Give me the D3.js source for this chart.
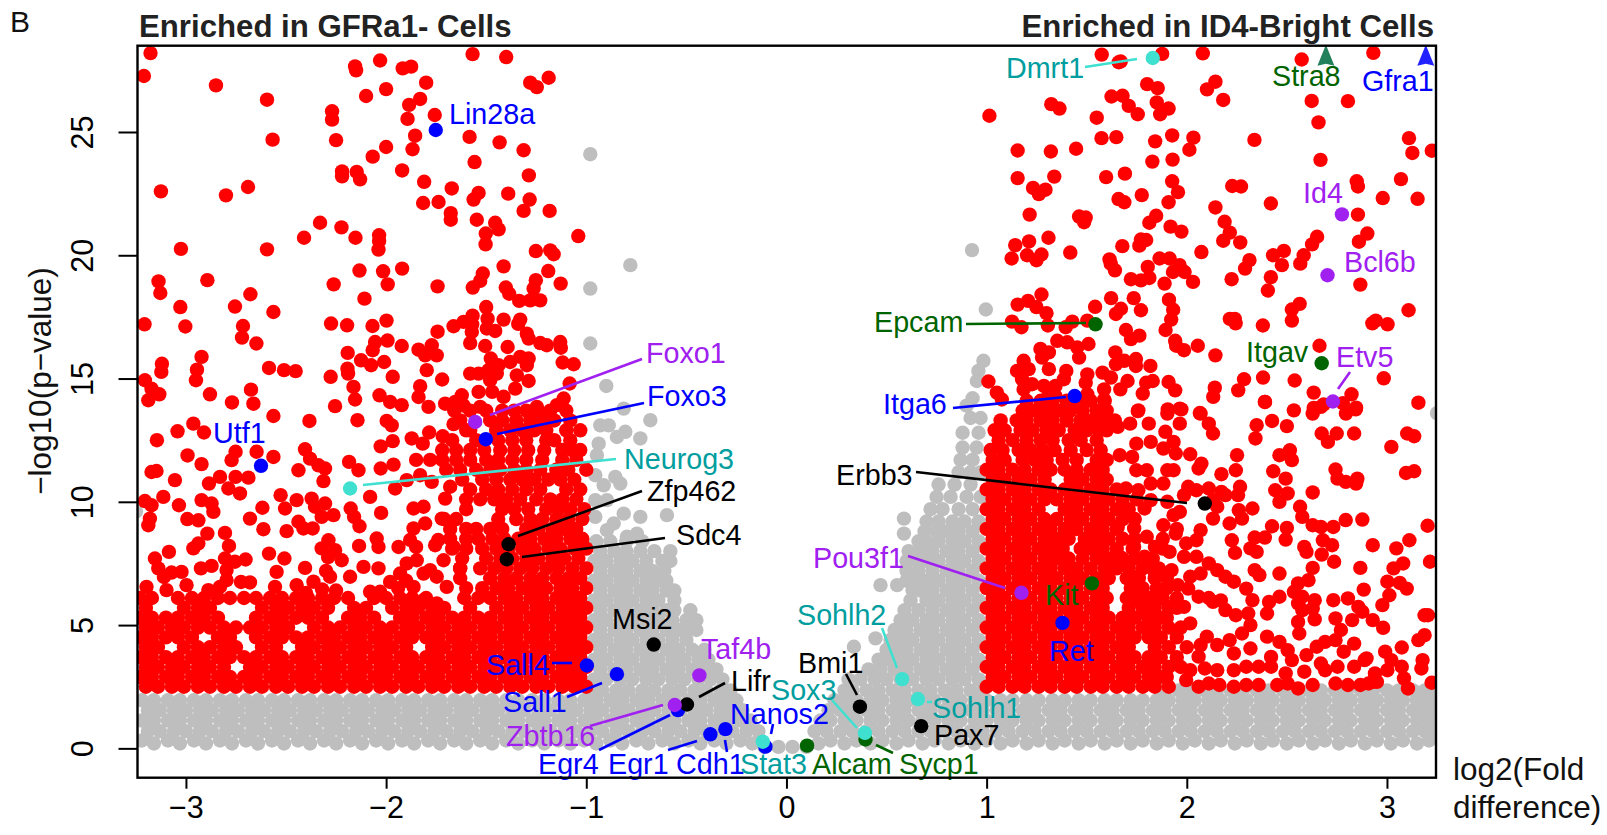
<!DOCTYPE html>
<html lang="en">
<head>
<meta charset="utf-8">
<title>Volcano plot GFRa1- vs ID4-Bright</title>
<script src="https://d3js.org/d3.v7.min.js"></script>
<style>
body { margin: 0; background: #fff; }
text { font-family: "Liberation Sans", Arial, sans-serif; }
.axis text { font-size: 30.5px; fill: #000; }
.axis line { stroke: #000; stroke-width: 2px; }
.gene-label { font-size: 28.7px; }
.title { font-size: 31.2px; font-weight: bold; fill: #222; }
.axis-title { font-size: 31.5px; fill: #111; }
</style>
</head>
<body>
<script>
// tick labels
var xTicks = [-3, -2, -1, 0, 1, 2, 3];
var yTicks = [0, 5, 10, 15, 20, 25];

// not significant genes: the solid band, each row is [-log10 p, [log2 fold ...]]
var greyRows = [
[0.32,[-3.22,-3.09,-2.96,-2.83,-2.7,-2.57,-2.44,-2.31,-2.18,-2.05,-1.92,-1.79,-1.66,-1.53,-1.4,-1.27,-1.14,-1.01,-.88,-.75,-.62,-.49,-.36,-.23,.22,.35,.48,.61,.74,.87,1,1.13,1.26,1.39,1.52,1.65,1.78,1.91,2.04,2.17,2.3,2.43,2.56,2.69,2.82,2.95,3.08,3.21]],
[0.2,[-3.16,-3.03,-2.9,-2.77,-2.64,-2.51,-2.38,-2.25,-2.12,-1.99,-1.86,-1.73,-1.6,-1.47,-1.34,-1.21,-1.08,-.95,-.82,-.69,-.56,-.43,-.3,-.17,.16,.29,.42,.55,.68,.81,.94,1.07,1.2,1.33,1.46,1.59,1.72,1.85,1.98,2.11,2.24,2.37,2.5,2.63,2.76,2.89,3.02,3.15]],
[0.06,[-.11,-.04,.03,.1]],
[0.7,[-3.19,-3.13,-3.06,-3,-2.93,-2.87,-2.8,-2.74,-2.67,-2.61,-2.54,-2.48,-2.41,-2.35,-2.28,-2.22,-2.15,-2.09,-2.02,-1.96,-1.89,-1.83,-1.76,-1.7,-1.63,-1.57,-1.5,-1.44,-1.37,-1.31,-1.24,-1.18,-1.11,-1.05,-.98,-.92,-.85,-.79,-.72,-.66,-.59,-.53,-.46,-.4,-.33,-.27,-.2,-.14,.14,.2,.27,.33,.4,.46,.53,.59,.66,.72,.79,.85,.92,.98,1.05,1.11,1.18,1.24,1.31,1.37,1.44,1.5,1.57,1.63,1.7,1.76,1.83,1.89,1.96,2.02,2.09,2.15,2.22,2.28,2.35,2.41,2.48,2.54,2.61,2.67,2.74,2.8,2.87,2.93,3,3.06,3.13,3.19,3.23]],
[1.13,[-3.22,-3.16,-3.09,-3.03,-2.96,-2.9,-2.83,-2.77,-2.7,-2.64,-2.57,-2.51,-2.44,-2.38,-2.31,-2.25,-2.18,-2.12,-2.05,-1.99,-1.92,-1.86,-1.79,-1.73,-1.66,-1.6,-1.53,-1.47,-1.4,-1.34,-1.27,-1.21,-1.14,-1.08,-1.01,-.95,-.88,-.82,-.75,-.69,-.62,-.56,-.49,-.43,-.36,-.3,-.23,-.18,.17,.22,.29,.35,.42,.48,.55,.61,.68,.74,.81,.87,.94,1,1.07,1.13,1.2,1.26,1.33,1.39,1.46,1.52,1.59,1.65,1.72,1.78,1.85,1.91,1.98,2.04,2.11,2.17,2.24,2.3,2.37,2.43,2.5,2.56,2.63,2.69,2.76,2.82,2.89,2.95,3.02,3.08,3.15,3.21]],
[1.55,[-3.19,-3.13,-3.06,-3,-2.93,-2.87,-2.8,-2.74,-2.67,-2.61,-2.54,-2.48,-2.41,-2.35,-2.28,-2.22,-2.15,-2.09,-2.02,-1.96,-1.89,-1.83,-1.76,-1.7,-1.63,-1.57,-1.5,-1.44,-1.37,-1.31,-1.24,-1.18,-1.11,-1.05,-.98,-.92,-.85,-.79,-.72,-.66,-.59,-.53,-.46,-.4,-.33,-.27,-.22,.21,.27,.33,.4,.46,.53,.59,.66,.72,.79,.85,.92,.98,1.05,1.11,1.18,1.24,1.31,1.37,1.44,1.5,1.57,1.63,1.7,1.76,1.83,1.89,1.96,2.02,2.09,2.15,2.22,2.28,2.35,2.41,2.48,2.54,2.61,2.67,2.74,2.8,2.87,2.93,3,3.06,3.13,3.19,3.23]],
[1.95,[-3.22,-3.16,-3.09,-3.03,-2.96,-2.9,-2.83,-2.77,-2.7,-2.64,-2.57,-2.51,-2.44,-2.38,-2.31,-2.25,-2.18,-2.12,-2.05,-1.99,-1.92,-1.86,-1.79,-1.73,-1.66,-1.6,-1.53,-1.47,-1.4,-1.34,-1.27,-1.21,-1.14,-1.08,-1.01,-.95,-.88,-.82,-.75,-.69,-.62,-.56,-.49,-.43,-.36,-.3,-.25,.24,.29,.35,.42,.48,.55,.61,.68,.74,.81,.87,.94,1,1.07,1.13,1.2,1.26,1.33,1.39,1.46,1.52,1.59,1.65,1.72,1.78,1.85,1.91,1.98,2.04,2.11,2.17,2.24,2.3,2.37,2.43,2.5,2.56,2.63,2.69,2.76,2.82,2.89,2.95,3.02,3.08,3.15,3.21]],
[2.35,[-.98,-.92,-.85,-.79,-.72,-.66,-.59,-.53,-.46,-.4,-.33,-.28,.29,.33,.4,.46,.53,.59,.66,.72,.79,.85,.92,.98,1.89,1.96,2.02,2.09,2.15,2.22,2.28,2.35,2.41,2.48,2.54,2.61,2.67,2.74,2.8,2.87,2.93,3,3.06,3.13,3.19,3.23]],
// left wedge
[2.8,[-.96,-.9,-.83,-.77,-.7,-.64,-.57,-.51,-.44,-.38,-.32]],
[3.2,[-.93,-.86,-.8,-.73,-.67,-.6,-.54,-.47,-.41,-.35]],
[3.6,[-.96,-.9,-.83,-.77,-.7,-.64,-.57,-.51,-.44,-.39]],
[4,[-.93,-.86,-.8,-.73,-.67,-.6,-.54,-.47,-.41]],
[4.4,[-.96,-.9,-.83,-.77,-.7,-.64,-.57,-.5]],
[4.8,[-.93,-.86,-.8,-.73,-.67,-.6,-.54,-.49,-.45]],
[5.2,[-.96,-.9,-.83,-.77,-.7,-.64,-.57,-.5,-.45]],
[5.6,[-.93,-.86,-.8,-.73,-.67,-.6,-.56,-.48]],
[6,[-.96,-.9,-.83,-.77,-.7,-.64,-.56]],
[6.4,[-.93,-.86,-.8,-.73,-.67,-.6,-.56]],
[6.8,[-.96,-.9,-.83,-.77,-.7,-.64,-.6]],
[7.2,[-.93,-.86,-.8,-.73,-.67,-.61]],
[7.6,[-.96,-.9,-.83,-.77,-.7,-.62,-.58]],
[8,[-.93,-.86,-.8,-.73,-.66,-.58]],
[8.4,[-.95,-.88,-.8,-.72]],
// right wedge
[2.8,[.31,.37,.44,.5,.57,.63,.7,.76,.83,.89,.96]],
[3.2,[.41,.47,.54,.6,.67,.73,.8,.86,.93]],
[3.6,[.46,.5,.57,.63,.7,.76,.83,.89,.96]],
[4,[.5,.54,.6,.67,.73,.8,.86,.93]],
[4.4,[.52,.57,.63,.7,.76,.83,.89,.96]],
[4.8,[.54,.6,.67,.73,.8,.86,.93]],
[5.2,[.57,.63,.7,.76,.83,.89,.96]],
[5.6,[.59,.66,.73,.8,.86,.93]],
[6,[.62,.7,.76,.83,.89,.96]],
[6.4,[.63,.67,.73,.8,.86,.93]],
[6.8,[.6,.65,.7,.76,.83,.89,.96]],
[7.2,[.6,.66,.73,.8,.86,.93]],
[7.6,[.6,.65,.7,.76,.83,.89,.96]],
[8,[.61,.67,.73,.8,.86,.93]],
[8.4,[.66,.7,.76,.83,.89,.96]],
[8.8,[.69,.75,.8,.86,.93]],
[9.2,[.7,.76,.83,.89,.96]],
[9.7,[.72,.78,.86,.93]],
[10.2,[.75,.82,.9,.97]],
[10.7,[.76,.84,.92]],
[11.2,[.86,.92,.97]],
[11.7,[.87,.93]],
[12.2,[.88,.95]],
[12.8,[.88,.96]],
[13.4,[.92,.97]]
];

// not significant genes read one by one
var greyPoints = [
[-.98,24.1],[-.98,18.65],[-.98,16.42],[-.9,14.7],[-.78,19.6],[-.68,13.31],[-.813,13.78],[-.93,13.1],[-.888,13.1],[-.847,12.63],[-.805,12.84],[-.73,12.57],[-.938,12.36],[-.947,11.89],[-.955,11.08],[-.855,11.01],[-.913,10.67],[-.83,10.74],[-.955,10.07],[-.897,10.07],[-.955,9.39],[-.813,9.52],[-.73,9.39],[-.597,9.46],[-.863,9.12],[-.897,8.85],[-.747,8.71],[-.797,8.58],
[.47,6.62],[.553,6.62],[.337,4.12],[.445,4.46],[.587,9.32],[.587,8.71],[.927,20.21],[.996,17.8],[.984,15.72],[.959,15.31],[.951,14.9],[.93,14.2],[.9,13.9],[3.25,13.6],[-3.25,9.6]
];

// significant genes: the dense masses as rows
var redRows = [
[2.5,[-3.2,-3.14,-3.07,-3.01,-2.94,-2.88,-2.81,-2.75,-2.68,-2.62,-2.55,-2.49,-2.42,-2.36,-2.29,-2.23,-2.16,-2.1,-2.03,-1.97,-1.9,-1.84,-1.77,-1.71,-1.64,-1.58,-1.51,-1.45,-1.38,-1.32,-1.25,-1.19,-1.12,-1.06,-1]],
[2.9,[-3.23,-3.17,-3.1,-3.04,-2.97,-2.91,-2.84,-2.78,-2.71,-2.65,-2.58,-2.52,-2.45,-2.39,-2.32,-2.26,-2.19,-2.13,-2.06,-2,-1.93,-1.87,-1.8,-1.74,-1.67,-1.61,-1.54,-1.48,-1.41,-1.35,-1.28,-1.22,-1.15,-1.09,-1.03]],
[3.3,[-3.2,-3.14,-3.07,-3.01,-2.94,-2.88,-2.81,-2.68,-2.62,-2.55,-2.49,-2.42,-2.36,-2.29,-2.23,-2.16,-2.1,-2.03,-1.97,-1.9,-1.84,-1.77,-1.71,-1.64,-1.58,-1.51,-1.45,-1.38,-1.32,-1.25,-1.19,-1.12,-1.06,-1]],
[3.7,[-3.23,-3.17,-3.1,-3.04,-2.97,-2.91,-2.84,-2.78,-2.71,-2.65,-2.58,-2.52,-2.45,-2.39,-2.32,-2.26,-2.19,-2.13,-2.06,-2,-1.93,-1.87,-1.8,-1.74,-1.67,-1.61,-1.54,-1.48,-1.41,-1.35,-1.28,-1.22,-1.15,-1.09,-1.03]],
[4.1,[-3.2,-3.14,-3.01,-2.94,-2.88,-2.81,-2.75,-2.62,-2.55,-2.42,-2.36,-2.29,-2.23,-2.16,-2.1,-2.03,-1.97,-1.9,-1.77,-1.71,-1.64,-1.58,-1.51,-1.45,-1.38,-1.32,-1.25,-1.19,-1.12,-1.06,-1]],
[4.5,[-3.23,-3.17,-3.1,-3.04,-2.97,-2.84,-2.78,-2.65,-2.58,-2.52,-2.45,-2.39,-2.32,-2.26,-2.19,-2.13,-2.06,-2,-1.93,-1.87,-1.8,-1.74,-1.67,-1.61,-1.54,-1.48,-1.41,-1.35,-1.28,-1.22,-1.15,-1.09,-1.03]],
[4.9,[-3.2,-3.14,-3.07,-3.01,-2.94,-2.88,-2.81,-2.75,-2.68,-2.62,-2.55,-2.49,-2.36,-2.29,-2.23,-2.16,-2.1,-2.03,-1.97,-1.9,-1.84,-1.77,-1.71,-1.64,-1.58,-1.51,-1.45,-1.38,-1.32,-1.25,-1.19,-1.12,-1.06,-1]],
[5.3,[-3.23,-3.17,-3.1,-3.04,-2.97,-2.91,-2.84,-2.65,-2.58,-2.52,-2.45,-2.39,-2.32,-2.19,-2.13,-2.06,-1.93,-1.87,-1.8,-1.74,-1.67,-1.61,-1.54,-1.48,-1.41,-1.35,-1.28,-1.22,-1.15,-1.09,-1.03]],
[5.7,[-3.2,-3.01,-2.94,-2.88,-2.62,-2.55,-2.49,-2.42,-2.36,-2.29,-2.16,-2.1,-1.97,-1.9,-1.84,-1.77,-1.71,-1.58,-1.45,-1.38,-1.32,-1.25,-1.19,-1.12,-1.06,-1]],
[6.1,[-3.23,-3.17,-3.04,-2.97,-2.91,-2.84,-2.78,-2.71,-2.65,-2.58,-2.52,-2.45,-2.39,-2.32,-2.26,-2.19,-2.06,-2,-1.93,-1.87,-1.8,-1.61,-1.54,-1.48,-1.41,-1.35,-1.28,-1.22,-1.15,-1.09,-1.03]],
[6.5,[-1.6,-1.52,-1.45,-1.39,-1.32,-1.26,-1.2,-1.13,-1.07,-1]],
[6.9,[-1.63,-1.48,-1.41,-1.35,-1.28,-1.22,-1.15,-1.09,-1.03]],
[7.3,[-1.63,-1.53,-1.46,-1.4,-1.33,-1.27,-1.2,-1.14,-1.07,-1]],
[7.7,[-1.62,-1.5,-1.43,-1.37,-1.3,-1.24,-1.17,-1.11,-1.04]],
[8.1,[-1.67,-1.6,-1.52,-1.45,-1.39,-1.32,-1.26,-1.19,-1.13,-1.06,-1]],
[8.5,[-1.68,-1.6,-1.54,-1.47,-1.41,-1.34,-1.28,-1.21,-1.15,-1.08,-1.02]],
[8.9,[-1.68,-1.6,-1.55,-1.48,-1.42,-1.3,-1.24,-1.17,-1.11,-1.05]],
[9.3,[-1.71,-1.65,-1.44,-1.35,-1.28,-1.22,-1.15,-1.09,-1.02]],
[9.7,[-1.6,-1.42,-1.36,-1.29,-1.2,-1.14,-1.08,-1.01]],
[10.1,[-1.6,-1.53,-1.46,-1.4,-1.33,-1.25,-1.18,-1.12,-1.05]],
[10.5,[-1.58,-1.5,-1.44,-1.37,-1.3,-1.23,-1.1,-1.03]],
[10.9,[-1.62,-1.52,-1.45,-1.38,-1.32,-1.26,-1.19,-1.13,-1.06]],
[11.3,[-1.7,-1.63,-1.55,-1.48,-1.43,-1.36,-1.3,-1.23,-1.15,-1.09,-1]],
[11.7,[-1.85,-1.78,-1.72,-1.65,-1.58,-1.5,-1.44,-1.37,-1.3,-1.22,-1.12,-1.05]],
[12.1,[-1.72,-1.65,-1.58,-1.51,-1.43,-1.36,-1.29,-1.21,-1.12,-1.07,-1.03]],
[12.5,[-1.67,-1.55,-1.44,-1.37,-1.3,-1.2,-1.16,-1.08]],
[12.9,[-1.6,-1.45,-1.38,-1.32,-1.26,-1.2,-1.1,-1.03]],
[13.3,[-1.63,-1.48,-1.42,-1.35,-1.28,-1.22,-1.16,-1.08]],
[13.7,[-1.66,-1.58,-1.5,-1.42,-1.36,-1.3,-1.24,-1.18,-1.1]],
// right block
[2.5,[1,1.06,1.13,1.19,1.26,1.32,1.39,1.45,1.52,1.58,1.65,1.71,1.78,1.84,1.91]],
[2.9,[1.03,1.09,1.16,1.22,1.29,1.35,1.42,1.48,1.55,1.61,1.68,1.74,1.81,1.87,1.9]],
[3.3,[1,1.06,1.13,1.19,1.26,1.32,1.39,1.45,1.52,1.58,1.65,1.71,1.78,1.84,1.91,1.97]],
[3.7,[1.03,1.09,1.16,1.22,1.29,1.35,1.42,1.48,1.55,1.61,1.68,1.74,1.81,1.87,1.95]],
[4.1,[1,1.06,1.13,1.19,1.26,1.32,1.39,1.45,1.52,1.58,1.65,1.71,1.84,1.91,2]],
[4.5,[1.03,1.09,1.16,1.22,1.29,1.35,1.42,1.48,1.55,1.61,1.68,1.74,1.81,1.87,1.95]],
[4.9,[1,1.06,1.13,1.19,1.26,1.32,1.39,1.45,1.52,1.58,1.65,1.71,1.78,1.84,1.91,1.97]],
[5.3,[1.03,1.09,1.16,1.22,1.29,1.35,1.42,1.48,1.55,1.61,1.68,1.74,1.81,1.87,1.9]],
[5.7,[1,1.06,1.13,1.19,1.26,1.32,1.39,1.45,1.52,1.58,1.71,1.78,1.84,1.91,1.95]],
[6.1,[1.03,1.09,1.16,1.22,1.29,1.35,1.42,1.48,1.55,1.6,1.7,1.76,1.82,1.88,1.95]],
[6.5,[1,1.06,1.13,1.19,1.26,1.32,1.39,1.45,1.52,1.58,1.72,1.78,1.85,1.9]],
[6.9,[1.03,1.09,1.16,1.22,1.29,1.35,1.42,1.48,1.55,1.61,1.7,1.76,1.84,1.9]],
[7.3,[1,1.06,1.13,1.19,1.26,1.32,1.39,1.45,1.52,1.59,1.65,1.71,1.78,1.86]],
[7.7,[1.03,1.09,1.16,1.22,1.29,1.35,1.41,1.48,1.55,1.61,1.68,1.74,1.83]],
[8.1,[1,1.06,1.13,1.19,1.26,1.32,1.38,1.47,1.52,1.58,1.65,1.73,1.88]],
[8.5,[1.03,1.09,1.16,1.22,1.29,1.35,1.41,1.49,1.55,1.61,1.68,1.74,1.88]],
[8.9,[1,1.06,1.13,1.19,1.26,1.32,1.39,1.45,1.52,1.58,1.65,1.95]],
[9.3,[1.03,1.09,1.16,1.22,1.29,1.35,1.42,1.48,1.55,1.61,1.68,1.74]],
[9.7,[1,1.06,1.13,1.19,1.26,1.39,1.45,1.52,1.58,1.65,1.71]],
[10.1,[1.03,1.09,1.16,1.22,1.29,1.35,1.42,1.48,1.55,1.61,1.68,1.75]],
[10.5,[1,1.06,1.13,1.19,1.26,1.32,1.39,1.45,1.52,1.58,1.65]],
[10.9,[1.03,1.09,1.16,1.22,1.29,1.42,1.48,1.55,1.6]],
[11.3,[1,1.06,1.13,1.19,1.26,1.32,1.39,1.45,1.52,1.58]],
[11.7,[1.03,1.09,1.18,1.24,1.3,1.38,1.45,1.55,1.6]],
[12.1,[1.02,1.08,1.16,1.22,1.28,1.34,1.42,1.5,1.57]],
[12.5,[1.06,1.13,1.2,1.27,1.33,1.41,1.47,1.55]],
[12.9,[1.04,1.09,1.17,1.23,1.3,1.36,1.44,1.5,1.56,1.6]],
[13.3,[1.07,1.15,1.2,1.27,1.33,1.4,1.47,1.52,1.58,1.64]],
[13.7,[1.18,1.24,1.3,1.36,1.42,1.48,1.55,1.6]],
[14.1,[1.2,1.27,1.33,1.4,1.46,1.52,1.59]]
];

// significant genes read one by one, left side
var redLeft = [
[-3.177,28.2],[-3.21,27.27],[-2.85,26.89],[-2.595,26.31],[-2.567,24.69],[-2.155,27.66],[-2.15,27.5],[-2.03,27.9],[-1.917,27.58],[-1.875,27.65],[-1.8,27],[-2,26.74],[-2.1,26.46],[-1.83,26.34],[-1.885,26.1],[-1.757,25.69],[-1.893,25.53],[-2.27,25.84],[-2.27,25.5],[-2.25,24.67],[-1.855,24.85],[-1.868,24.3],[-2,24.39],[-2.067,24],[-1.568,28.16],[-1.4,28.04],[-1.28,27],[-1.247,26.82],[-1.188,27.2],[-1.583,24.8],[-1.433,24.58],[-1.313,24.26],[-1.558,23.78],[-1.92,23.44],[-2.22,23.4],[-2.22,23.2],[-2.147,23.38],[-2.13,23.08],[-1.81,22.98],[-1.287,23.24],[-1.672,22.71],[-1.538,22.53],[-1.563,22.26],[-1.39,22.5],[-1.283,22.26],[-1.313,21.8],[-1.815,22.12],[-1.738,22.16],[-1.677,21.71],[-1.677,21.44],[-1.547,21.44],[-1.183,21.8],[-1.455,21.32],[-1.438,21.05],[-1.502,20.88],[-1.503,20.44],[-1.04,20.78],
[-3.125,22.59],[-2.8,22.43],[-2.69,22.77],[-2.33,21.32],[-2.223,21.13],[-2.41,20.71],[-2.153,20.71],[-2.035,20.81],[-2.035,20.58],[-2.038,20.23],[-3.025,20.26],[-2.595,20.24],[-1.252,20.17],[-1.18,20.2],[-1.163,20.04],[-1.413,19.55],[-1.19,19.36],[-2.133,19.38],[-2.015,19.35],[-1.92,19.46],[-1.517,19.26],[-1.53,18.96],[-1.567,18.69],[-3.137,18.94],[-3.128,18.47],[-2.893,18.99],[-2.262,18.82],[-1.992,18.82],[-1.743,18.74],[-1.402,18.69],[-1.385,18.44],[-1.252,18.99],[-1.263,18.65],[-1.128,18.85],[-2.108,18.24],[-2.678,18.42],[-3.028,17.9],[-2.755,17.92],[-1.335,18.15],[-1.28,18.17],[-1.23,18.17],[-1.5,17.9],[-2.563,17.7],[-1.568,17.55],[-1.613,17.3],[-1.663,17.12],[-1.57,17.2],[-1.493,17.43],[-1.413,17.39],[-1.33,17.39],[-1.34,17.22],[-3.207,17.2],[-3.003,17.11],[-2.715,17.13],[-2.72,16.66],[-2.648,16.42],[-2.275,17.23],[-2.195,17.16],[-2.068,17.13],[-1.998,17.35],[-1.743,16.9],[-1.572,16.89],[-1.497,17.03],[-1.455,16.93],[-1.297,16.82],[-1.288,16.62],[-2.055,16.48],[-2.067,16.15],[-1.993,16.54],[-1.922,16.32],[-2.192,16.04],[-1.838,16.17],[-1.772,16.35],[-1.805,15.94],[-1.747,15.94],[-1.78,16.08],[-1.58,16.44],[-1.505,16.32],[-1.393,16.28],[-1.23,16.44],[-1.197,16.35],[-1.13,16.48],[-1.127,16.25],
[-2.922,15.88],[-3.12,15.6],[-3.123,15.27],[-2.945,15.36],[-2.95,14.93],[-2.585,15.43],[-2.51,15.34],[-2.452,15.3],[-2.125,15.74],[-2.075,15.54],[-2.01,15.67],[-2.193,15.4],[-2.19,15.2],[-2.277,15.07],[-1.967,15.07],[-1.797,15.34],[-1.72,14.96],[-1.477,15.81],[-1.33,15.88],[-1.288,15.81],[-1.297,15.54],[-1.38,15.67],[-1.438,15.54],[-1.118,15.65],[-1.063,15.58],[-1.58,15.2],[-1.538,15.2],[-1.488,15.34],[-1.48,14.93],[-1.447,15.2],[-1.347,15.13],[-1.288,14.9],[-1.355,14.59],[-1.538,14.46],[-1.47,14.46],[-1.413,14.26],[-1.083,14.8],[-3.205,14.93],[-3.172,14.59],[-3.133,14.36],[-3.188,14.12],[-2.88,14.36],[-2.77,14.03],[-2.675,14.55],[-2.663,13.98],[-2.163,14.66],[-2.155,14.15],[-2.255,13.88],[-2.033,14.32],[-1.98,14.05],[-1.922,13.92],[-1.83,14.69],[-1.838,14.25],[-1.788,13.85],[-1.705,13.98],[-1.622,14.32],[-1.655,14.05],[-1.53,13.85],[-1.113,14.19],[-1.247,13.85],[-1.147,13.92],[-1.613,13.9],
[-2.563,13.48],[-2.383,13.28],[-2.143,13.31],[-2.963,13.17],[-2.91,12.81],[-3.042,12.86],[-3.145,12.5],[-1.997,13.28],[-1.972,13.1],[-2.752,12.03],[-2.772,11.69],[-2.647,12.03],[-2.563,11.82],[-2.992,11.88],[-2.922,11.53],[-3.172,11.21],[-3.147,11.25],[-2.405,12.13],[-2.38,11.75],[-2.338,11.48],[-2.305,11.35],[-2.438,11.28],[-2.313,10.84],[-2.185,11.62],[-2.138,11.28],[-2.027,11.35],[-1.963,11.51],[-2.027,12.25],[-1.967,12.46],[-1.872,12.57],[-1.817,12.36],[-1.785,12.81],[-1.717,12.66],[-1.663,13.15],[-1.58,12.9],
[-2.83,11.01],[-2.885,10.74],[-3.055,10.88],[-2.752,11.01],[-2.688,10.98],[-2.788,10.54],[-2.73,10.34],[-3.113,10.2],[-3.205,10.03],[-3.172,9.86],[-3.035,9.86],[-2.922,10.07],[-2.872,9.93],[-2.863,9.59],[-3.18,9.32],[-3.188,9.05],[-2.993,9.3],[-2.938,9.25],[-2.618,9.76],[-2.68,9.32],[-2.613,8.89],[-2.527,10.27],[-2.447,10.07],[-2.505,9.73],[-2.372,10.13],[-2.355,9.8],[-2.305,9.93],[-2.322,9.39],[-2.263,9.46],[-2.08,10.2],[-2.177,9.73],[-2.16,9.39],[-2.133,9.01],[-2.025,9.55],[-2.438,9.19],[-2.497,8.81],[-2.413,8.92],[-2.367,8.92],[-2.805,8.74],[-2.893,8.71],[-2.938,8.31],[-2.963,8.11],[-2.785,8.21],[-3.085,7.97],[-2.585,7.9],[-2.508,7.7],[-3.155,7.7],[-3.138,7.3],[-3.072,7.13],[-3.022,7.16],[-3.11,6.95],[-2.925,7.3],[-2.872,7.4],[-2.805,7.7],[-2.797,7.23],[-2.702,7.66],[-2.755,7.57],[-2.547,7.16],[-2.555,6.55],[-2.447,6.62],[-2.725,6.75],[-2.68,6.73],[-2.797,6.82],[-2.288,8.44],[-2.322,8.11],[-2.255,8.04],[-2.29,7.76],[-2.222,7.63],[-2.405,7.32],[-2.363,6.76],[-2.28,6.96],[-2.3,7.2],[-2.135,8.21],[-2.047,8.51],[-2.038,8.17],[-2.18,6.96],[-2.113,7.36],[-2.038,7.3],[-1.938,8.17],[-1.863,8.92],[-1.805,9.12],[-1.88,8.45],[-1.85,8.17],[-1.755,8.24],[-1.74,8.45],[-1.863,9.73],[-1.813,9.8],[-1.68,10.61],[-1.705,10.13],[-1.722,9.32],[-1.897,10.88],[-1.83,11.08],[-1.772,10.81],[-1.955,10.54],
[-1.663,8.17],[-1.63,7.3],[-1.697,6.55],[-3.197,6.55],[-3.097,6.42],[-2.997,6.62],[-2.888,6.42],[-2.83,6.55],[-2.08,6.35],[-2.03,6.35],[-1.93,7.09],[-1.897,7.5],[-1.847,7.63],[-1.813,7.09],[-1.747,6.96],[-1.78,7.23],[-1.863,6.55],[-1.813,6.01],[-1.747,5.88],[-1.713,7.63],[-1.9,6.8],[-1.94,6.5],[-1.98,6.75],[-2.4,6.3],[-2.32,6.45],[-2.25,6.4]
];

// significant genes read one by one, right side
var redRight = [
[1.575,28.14],[1.66,27.83],[1.67,27.86],[1.877,28.17],[2.08,28.19],[2.574,27.94],[2.932,28.21],[1.802,26.94],[1.855,26.78],[2.143,27.04],[2.101,26.73],[2.182,26.3],[2.624,26.26],[2.805,26.25],[2.658,25.39],[1.624,26.44],[1.679,26.47],[1.71,26.06],[1.755,25.72],[1.85,26.2],[1.909,25.95],[1.867,25.72],[1.323,26.13],[1.364,25.95],[1.014,25.66],[1.55,25.58],[1.574,24.75],[1.648,24.79],[1.842,24.62],[1.927,24.86],[2.033,24.77],[2.013,24.28],[2.338,24.68],[3.11,24.75],[3.127,24.15],[3.224,24.24],[1.155,24.25],[1.321,24.21],[1.447,24.32],[1.828,23.8],[1.929,23.88],[2.668,23.87],[1.155,23.13],[1.338,23.19],[1.597,23.17],[1.691,23.31],[1.927,23],[1.956,22.56],[1.909,22.15],[2.227,22.81],[2.271,22.79],[2.849,23],[2.855,22.79],[3.07,23.09],[2.979,22.32],[3.153,22.29],[1.232,22.73],[1.261,22.48],[1.294,22.66],[1.659,22.28],[1.688,22.15],[1.775,22.44],[2.42,22.1],[2.143,21.94],[2.855,21.65],[1.215,21.65],[1.462,21.57],[1.495,21.53],[1.487,21.34],[1.847,21.6],[1.813,21.32],[2.189,21.36],[2.215,20.92],[2.182,20.59],[2.267,20.52],[1.919,21.16],[1.973,20.96],[2.651,20.75],[2.626,20.44],[2.902,20.88],[2.86,20.55],[1.309,20.71],[1.212,20.56],[1.143,20.41],[1.125,19.87],[1.202,20],[1.249,19.8],[1.274,20.03],[1.418,20.11],[1.678,20.37],[1.771,20.64],[1.797,20.62],[1.763,20.39],[2.073,20.13],[2.485,20.18],[2.431,20],[2.475,19.6],[2.584,20],[2.567,19.66],[2.313,19.8],[2.291,19.46],[1.614,19.83],[1.641,19.39],[1.62,19.66],[1.864,19.87],[1.914,19.87],[1.964,19.6],[1.931,19.32],[1.989,19.32],[1.805,19.53],[1.813,19.08],[1.771,18.98],[1.721,19.03],[1.889,18.85],[2.031,18.92],[2.224,19.03],[2.42,19.11],[2.405,18.57],[2.867,18.81],
[1.274,18.41],[1.207,18.15],[1.155,18],[1.249,17.9],[1.299,17.65],[1.622,18.26],[1.735,18.26],[1.771,17.77],[1.671,17.83],[1.646,17.62],[1.542,17.91],[1.911,18.2],[1.932,17.79],[1.922,17.39],[1.894,16.97],[2.564,18.03],[2.525,17.8],[2.525,17.35],[3.108,17.77],[2.215,17.42],[2.24,17.42],[2.244,17.24],[2.38,17.15],[2.944,17.35],[2.927,17.24],[3.003,17.2],[1.127,17.31],[1.174,17.08],[1.306,17.15],[1.395,17.08],[1.428,17.31],[1.503,17.35],[1.696,16.97],[1.721,16.6],[1.763,16.74],[1.942,16.53],[1.947,16.33],[1.986,16.15],[2.055,16.33],[2.143,15.94],[2.663,16.33],[1.353,16.53],[1.403,16.47],[1.453,16.26],[1.509,16.4],[1.462,15.85],[1.269,16.2],[1.311,16.06],[1.277,15.85],[1.311,15.38],[1.185,15.72],[1.152,15.31],[1.21,15.38],[1.177,14.97],[1.227,14.77],[1.185,14.56],[1.009,14.88],[1.051,14.43],[1.076,14.15],[1.643,16.06],[1.688,15.72],[1.646,15.58],[1.746,15.79],[1.746,15.51],[1.818,15.51],[1.398,15.31],[1.386,14.97],[1.286,14.7],[1.344,14.7],[1.311,14.36],[1.344,14.29],[1.503,15.17],[1.579,15.24],[1.495,14.83],[1.621,15.04],[1.704,14.9],[1.668,14.56],[1.503,14.36],[1.587,14.56],[1.587,14.15],[1.83,14.9],[1.797,14.83],[1.909,14.86],[1.942,14.52],[1.78,14.39],[2.14,14.63],[2.132,14.26],[2.286,14.97],[2.257,14.52],[2.381,15.04],[2.539,14.92],[2.984,15.01],[2.634,14.43],[2.823,14.36],[2.391,14.05],[2.684,13.95],[2.634,13.81],[3.157,14.02],[2.844,13.75],[1.755,13.68],[1.905,13.75],[1.973,13.75],[2.065,13.6],[2.78,14],
[2.39,14.05],[2.535,13.71],[2.629,13.58],[2.67,13.85],[2.795,13.58],[2.846,13.82],[2.349,13.11],[2.426,13.28],[2.5,13.07],[2.343,12.57],[2.674,12.77],[2.749,12.77],[2.705,12.43],[2.836,12.77],[3.101,12.77],[3.136,12.66],[3.022,12.23],[2.251,11.89],[2.463,11.89],[2.515,12.09],[2.525,11.69],[2.017,11.93],[2.073,11.55],[2.059,11.35],[2.173,11.12],[2.245,11.28],[2.432,11.24],[2.494,10.94],[2.743,11.31],[2.753,10.94],[2.794,10.81],[2.852,10.94],[2.846,10.74],[3.136,11.24],[3.095,11.17],[2.629,10.38],[2.266,10.61],[2.256,10.27],[2.442,10.47],[2.504,10.34],[2.463,10],[2.566,9.8],[2.577,9.39],[2.629,9.05],[2.67,8.98],[2.732,8.98],[2.794,9.26],[2.877,9.28],[2.26,9.66],[2.328,9.73],[2.276,9.32],[2.214,9.12],[2.426,9.01],[2.5,8.94],[2.494,8.47],[3.203,9.03],[2.225,8.44],[2.241,7.93],[2.339,8.55],[2.39,8.55],[2.318,8.11],[2.349,7.97],[2.587,8.17],[2.598,7.97],[2.68,8.44],[2.726,8.24],[2.674,7.86],[2.736,7.57],[2.929,8.24],[3.047,8.11],[3.112,8.44],[3.215,7.57],[3.081,7.5],[3.033,7.3],[2.867,7.32],[2.629,7.32],[2.608,6.82],[2.556,6.69],[2.535,6.35],[2.339,7.23],[2.363,7.03],[2.463,7.09],[3.002,6.76],[3.064,6.71],[3.099,6.48],[3.012,6.21],[2.977,5.81],[2.884,6.44],[2.463,6.15],[2.411,5.94],[2.401,5.47],[2.577,6.15],[2.639,6.01],[2.556,5.88],[2.629,5.67],[2.577,5.61],[2.732,6.01],[2.805,6.08],[2.857,5.74],[2.877,5.54],[3.188,5.4],[3.205,5.4],[2.743,5.27],[2.826,5.2],[2.639,5.23],[2.556,5.13],[2.562,4.66],[2.929,5.2],[2.981,4.89],[2.77,4.8],[3.188,4.59],[3.157,4.39],[3.178,3.58],[3.172,3.24],[3.074,4.09],[3.223,2.66],[3.105,2.43],[3.085,2.84],[3.074,3.31],[3.022,3.58],[2.991,3.92],[2.94,3.04],[3.002,3.17],[2.908,2.63],[2.95,2.7],
[1.997,2.77],[2.059,2.5],[2.11,2.63],[2.163,2.57],[2.235,2.5],[2.297,2.57],[2.359,2.57],[2.452,2.57],[2.504,2.63],[2.556,2.43],[2.629,2.57],[2.743,2.63],[2.805,2.57],[2.867,2.57],[2.929,2.7],[2.017,3.17],[2.09,3.24],[2.152,3.17],[2.235,3.17],[2.297,3.31],[2.359,3.31],[2.421,3.31],[2.494,3.04],[2.587,3.11],[2.691,3.17],[2.753,3.31],[2.836,3.31],[2.888,3.58],[2.152,4.19],[2.214,4.39],[2.276,4.66],[2.401,4.53],[2.463,4.32],[2.504,3.98],[2.525,3.58],[2.421,3.71],[2.235,3.85],[2.059,3.72],[2.069,4.19],[2.318,4.05],[2.598,3.78],[2.649,4.12],[2.691,4.32],[2.743,4.39],[2.784,3.92],[2.836,4.25],[2.898,3.65],[2.67,3.44],[2.017,5.07],[2.1,4.53],[1.986,5.74],[2.245,5.4],[2.193,5.61],[2.131,5.94],[2.059,6.15],[2.007,6.48],[1.955,6.62],[2.193,6.96],[2.235,6.76],[2.297,6.48],[2.328,6.01],[2.307,5.47],[2.318,5],[2.048,7.77],[2.11,7.5],[2.152,7.23],[2.069,7.09],[2.017,6.96],[2.11,6.1],[2.17,6],[2.131,9.32],[2.069,8.85],[2.048,8.44],[1.945,8.71],[1.997,8.31],[1.914,7.97],[1.986,7.77],[1.924,7.23],[2.007,10.61],[2.048,10.47],[2.11,10.54],[2.173,10.4],[2.193,10.27],[2.131,10.07],[2.152,9.8],[1.986,10.27],[1.965,9.59],[1.883,9.05],
[1.903,13.58],[1.965,13.78],[1.965,13.17],[2.069,13.58],[2.11,13.17],[2.131,12.77],[1.893,12.84],[1.934,12.43],[1.82,12.43],[1.748,12.36],[1.883,12.16],[1.945,11.96],[1.665,11.89],[1.727,11.82],[1.748,11.28],[1.8,11.28],[1.903,11.28],[1.934,11.28],[1.82,10.74],[1.696,10.54],[1.883,10.74],[1.758,10.47],[1.82,10.07],[1.903,10],[1.789,9.73],[1.934,9.46],[1.758,13.71],[1.81,13.17],[1.655,13.04],[1.717,13.17],
[1.655,8.98],[1.737,8.92],[1.8,8.58],[1.841,8.17],[1.737,8.17],[1.789,7.77],[1.665,7.77],[1.82,7.5],[1.758,6.96],[1.841,7.09],[1.883,6.42],[1.748,6.01],[1.789,5.47],[1.841,5.88],[1.924,5.74]
];

// named genes, in drawing order
var geneNames = ["Lin28a","Utf1","Foxo3","Foxo1","Neurog3","Zfp462","Sdc4","Msi2","Sall4","Sall1","Taf4b","Egr4","Lifr","Zbtb16","Egr1","Cdh1","Nanos2","Stat3","Alcam","Sycp1","Sox3","Bmi1","Sohlh2","Sohlh1","Pax7","Pou3f1","Kit","Ret","Erbb3","Epcam","Itga6","Dmrt1","Id4","Bcl6b","Itgav","Etv5"];
var geneX = [-1.752,-2.625,-1.502,-1.555,-2.18,-1.388,-1.397,-.663,-.997,-.847,-.435,-.542,-.497,-.558,-.38,-.305,-.105,-.118,.103,.395,.392,.367,.578,.657,.673,1.174,1.526,1.379,2.09,1.544,1.44,1.83,2.775,2.703,2.674,2.73];
var geneY = [25.08,11.46,12.54,13.24,10.54,8.28,7.67,4.21,3.36,3.01,2.96,1.55,1.78,1.76,.57,.78,.07,.27,.11,.36,.63,1.69,2.81,2,.9,6.31,6.69,5.09,9.93,17.2,14.29,28,21.66,19.19,15.62,14.07];
var geneGroup = ["blue","blue","blue","purple","teal","black","black","black","blue","blue","purple","blue","black","purple","blue","blue","blue","teal","green","green","teal","black","teal","teal","black","purple","green","blue","black","green","blue","teal","purple","purple","green","purple"];

// genes beyond the top of the plot, shown as arrow heads
var offscaleNames = ["Stra8","Gfra1"];
var offscaleX = [2.695,3.194];

var groupDot = {blue:"#0000ff", purple:"#a020f0", teal:"#40e0d0", green:"#006400", black:"#000"};
var groupText = {blue:"#0000ff", purple:"#a020f0", teal:"#009e9e", green:"#006400", black:"#000"};

// where the gene names sit, in page pixels
var labelPos = {Lin28a:[449,124],Utf1:[213,443],Foxo1:[646,363],Foxo3:[647,406],Neurog3:[624,469],Zfp462:[647,501],Sdc4:[676,545],Msi2:[612,629],Sall4:[486,675],Sall1:[503,712],Taf4b:[701,659],Zbtb16:[506,746],Lifr:[731,691],Nanos2:[730,724],Egr4:[538,774],Egr1:[608,774],Cdh1:[676,774],Stat3:[740,774],Alcam:[812,774],Sycp1:[899,774],Sox3:[771,700],Bmi1:[798,673],Sohlh2:[797,625],Sohlh1:[932,718],Pax7:[934,745],Pou3f1:[813,568],Erbb3:[836,485],Itga6:[883,414],Epcam:[874,332],Kit:[1045,605],Ret:[1049,661],Dmrt1:[1006,78],Stra8:[1272,86],Gfra1:[1362,91],Id4:[1303,203],Bcl6b:[1344,272],Itgav:[1246,362],Etv5:[1336,367]};

// leader lines from name to point, in page pixels
var leaders = {Foxo1:[490,415,642,359],Foxo3:[497,434,644,403],Neurog3:[363,485,616,459],Zfp462:[518,536,642,491],Sdc4:[522,557,665,538],Sall4:[552,663,572,663],Sall1:[567,697,602,683],Zbtb16:[590,726,663,705],Egr4:[599,750,670,715],Egr1:[668,750,697,741],Cdh1:[727,752,725,740],Lifr:[699,697,725,683],Nanos2:[771,734,773,724],Sycp1:[876,745,893,753],Sox3:[832,700,857,728],Bmi1:[846,674,857,695],Sohlh2:[882,628,897,668],Sohlh1:[927,702,932,702],Pou3f1:[908,556,1005,588],Erbb3:[916,472,1187,503],Itga6:[953,408,1066,397],Epcam:[966,324,1086,323],Dmrt1:[1085,67,1137,59],Etv5:[1338,389,1350,372]};

var w = 1607, h = 835;
var left = 137.5, right = 1436, top_ = 45.7, bottom = 777.7;
var radius = 7.2;

var svg = d3.select("body").append("svg")
	.attr("width", w)
	.attr("height", h);

var xScale = d3.scaleLinear().domain([-3.242, 3.245]).range([left, right]);
var yScale = d3.scaleLinear().domain([-1.19, 28.5]).range([bottom, top_]);

svg.append("clipPath").attr("id", "plot-clip")
	.append("rect")
	.attr("x", left).attr("y", top_)
	.attr("width", right - left).attr("height", bottom - top_);

function rowsToPoints(rows) {
	return rows.flatMap(function(r) {
		return r[1].map(function(x) { return [x, r[0]]; });
	});
}

var plot = svg.append("g").attr("clip-path", "url(#plot-clip)");

function drawDots(points, color) {
	plot.append("g").selectAll("circle")
		.data(points)
		.enter().append("circle")
		.attr("cx", function(d) { return xScale(d[0]); })
		.attr("cy", function(d) { return yScale(d[1]); })
		.attr("r", radius)
		.attr("fill", color);
}

drawDots(rowsToPoints(greyRows).concat(greyPoints), "#bebebe");
drawDots(rowsToPoints(redRows).concat(redLeft, redRight), "#ff0000");

// named genes
plot.append("g").selectAll("circle")
	.data(geneNames)
	.enter().append("circle")
	.attr("cx", function(d, i) { return xScale(geneX[i]); })
	.attr("cy", function(d, i) { return yScale(geneY[i]); })
	.attr("r", radius)
	.attr("fill", function(d, i) { return groupDot[geneGroup[i]]; });

// arrow heads at the top edge
var arrowColors = ["#22805a", "#2222ff"];
svg.append("g").selectAll("path")
	.data(offscaleX)
	.enter().append("path")
	.attr("d", function(d) {
		var x = xScale(d), y = top_;
		return "M" + x + "," + (y - 1) + "L" + (x + 8.5) + "," + (y + 20) + "L" + x + "," + (y + 18) + "L" + (x - 8.5) + "," + (y + 20) + "Z";
	})
	.attr("fill", function(d, i) { return arrowColors[i]; });

// leader lines
function geneColor(name, table) {
	var i = geneNames.indexOf(name);
	return table[geneGroup[i]];
}

svg.append("g").selectAll("line")
	.data(Object.keys(leaders))
	.enter().append("line")
	.attr("x1", function(d) { return leaders[d][0]; })
	.attr("y1", function(d) { return leaders[d][1]; })
	.attr("x2", function(d) { return leaders[d][2]; })
	.attr("y2", function(d) { return leaders[d][3]; })
	.attr("stroke", function(d) { return geneColor(d, groupDot); })
	.attr("stroke-width", 2.6);

// gene names
svg.append("g").selectAll("text")
	.data(Object.keys(labelPos))
	.enter().append("text")
	.attr("class", "gene-label")
	.attr("x", function(d) { return labelPos[d][0]; })
	.attr("y", function(d) { return labelPos[d][1]; })
	.attr("fill", function(d) {
		if (d == "Stra8") return groupText.green;
		if (d == "Gfra1") return groupText.blue;
		return geneColor(d, groupText);
	})
	.text(function(d) { return d; });

// frame
svg.append("rect")
	.attr("x", left).attr("y", top_)
	.attr("width", right - left).attr("height", bottom - top_)
	.attr("fill", "none")
	.attr("stroke", "#000")
	.attr("stroke-width", 2.4);

// axes
var fmt = function(d) { return String(d).replace("-", "\u2212"); };

var xAxis = svg.append("g").attr("class", "axis")
	.attr("transform", "translate(0," + bottom + ")")
	.call(d3.axisBottom(xScale).tickValues(xTicks).tickSize(11).tickPadding(8).tickFormat(fmt));
xAxis.select(".domain").remove();

var yAxis = svg.append("g").attr("class", "axis")
	.attr("transform", "translate(" + left + ",0)")
	.call(d3.axisLeft(yScale).tickValues(yTicks).tickSize(19).tickFormat(fmt));
yAxis.select(".domain").remove();
yAxis.selectAll("text")
	.attr("transform", "rotate(-90)")
	.attr("text-anchor", "middle")
	.attr("x", 0)
	.attr("y", -45)
	.attr("dy", 0);

// titles
svg.append("text").attr("class", "title").attr("x", 139).attr("y", 37).text("Enriched in GFRa1- Cells");
svg.append("text").attr("class", "title").attr("x", 1434).attr("y", 37).attr("text-anchor", "end").text("Enriched in ID4-Bright Cells");
svg.append("text").attr("x", 10).attr("y", 32).style("font-size", "30px").attr("fill", "#111").text("B");
svg.append("text").attr("class", "axis-title")
	.attr("transform", "translate(51,381) rotate(-90)")
	.attr("text-anchor", "middle")
	.text("\u2212log10(p\u2212value)");
svg.append("text").attr("class", "axis-title").attr("x", 1453).attr("y", 780).text("log2(Fold");
svg.append("text").attr("class", "axis-title").attr("x", 1453).attr("y", 818).text("difference)");
</script>
</body>
</html>
